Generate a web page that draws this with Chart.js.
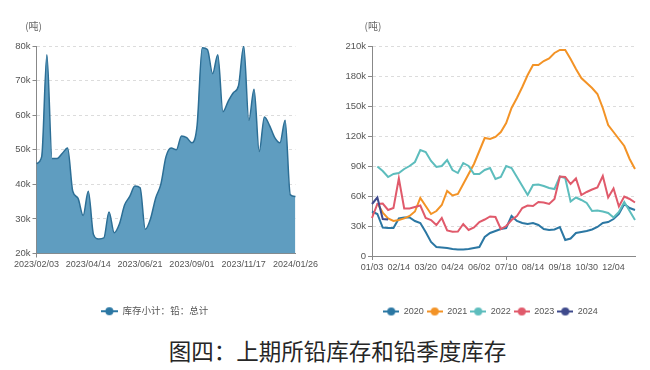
<!DOCTYPE html>
<html>
<head>
<meta charset="utf-8">
<script src="https://cdn.jsdelivr.net/npm/chart.js@4.4.1/dist/chart.umd.min.js"></script>
<style>
  html, body { margin: 0; padding: 0; background: #ffffff; }
  body { width: 650px; height: 370px; position: relative; overflow: hidden; }
  .box { position: absolute; top: 0; height: 330px; }
  #leftBox { left: 12px; width: 308px; }
  #rightBox { left: 346px; width: 304px; }
  #title { position: absolute; left: 0; top: 336px; width: 675px; text-align: center;
           font-family: 'Noto Sans CJK SC', sans-serif; font-size: 22.5px; line-height: 28px; color: #262626; }
</style>
</head>
<body>
<div id="leftBox" class="box"><canvas id="left" width="308" height="330"></canvas></div>
<div id="rightBox" class="box"><canvas id="right" width="304" height="330"></canvas></div>
<div id="title">图四：上期所铅库存和铅季度库存</div>
<script>
// ---------- Left chart: SHFE lead inventory (tons) ----------
const leftDates = [
  '2023/02/03','2023/02/10','2023/02/17','2023/02/24','2023/03/03','2023/03/10','2023/03/17','2023/03/24','2023/03/31','2023/04/07',
  '2023/04/14','2023/04/21','2023/04/28','2023/05/05','2023/05/12','2023/05/19','2023/05/26','2023/06/02','2023/06/09','2023/06/16',
  '2023/06/21','2023/06/30','2023/07/07','2023/07/14','2023/07/21','2023/07/28','2023/08/04','2023/08/11','2023/08/18','2023/08/25',
  '2023/09/01','2023/09/08','2023/09/15','2023/09/22','2023/09/28','2023/10/13','2023/10/20','2023/10/27','2023/11/03','2023/11/10',
  '2023/11/17','2023/11/24','2023/12/01','2023/12/08','2023/12/15','2023/12/22','2023/12/29','2024/01/05','2024/01/12','2024/01/19',
  '2024/01/26'
];
const leadTotal = [
  46000, 48000, 77500, 47500, 47500, 49000, 50500, 38000, 36000, 31000,
  38000, 25500, 24200, 24500, 32000, 26000, 28500, 34000, 36500, 39500,
  39000, 27000, 30000, 36000, 40000, 48000, 50500, 50000, 54000, 53500,
  52000, 57000, 79500, 79000, 72000, 77500, 61000, 64000, 66500, 68500,
  80000, 58500, 67500, 49500, 59500, 57000, 53500, 52000, 58500, 37000,
  36500
];
const leftTicks = [20000, 30000, 40000, 50000, 60000, 70000, 80000];

// ---------- Right chart: seasonal lead inventory (tons) ----------
const seasonDates = [
  '01/03','01/10','01/17','01/31','02/07','02/14','02/21','02/28','03/06','03/13',
  '03/20','03/27','04/03','04/10','04/17','04/24','05/08','05/15','05/22','05/29',
  '06/02','06/09','06/16','06/26','07/03','07/10','07/17','07/24','07/31','08/07',
  '08/14','08/21','08/28','09/04','09/11','09/18','09/25','10/09','10/16','10/23',
  '10/30','11/06','11/13','11/20','11/27','12/04','12/11','12/18','12/25','12/31'
];
const y2020 = [
  44500, 42000, 28500, 28000, 28000, 37600, 38500, 38500, 35000, 33000,
  24000, 14000, 9000, 8500, 8000, 7000, 6500, 6500, 7000, 8000,
  9000, 19000, 23000, 25000, 27000, 28000, 40000, 35000, 33000, 32000,
  33000, 31000, 27000, 26000, 26500, 29000, 16000, 17500, 23000, 24000,
  25000, 26500, 29000, 33000, 34000, 37000, 42000, 52000, 48000, 46000
];
const y2021 = [
  null, 52700, 43400, 37600, 35000, 36000, 37600, 40000, 44500, 58000,
  50000, 42000, 45000, 51000, 65000, 60500, 62000, 72000, 82000, 92000,
  105000, 118000, 117000, 119000, 124000, 133000, 148000, 158000, 169000, 181000,
  191000, 191000, 195000, 197500, 203000, 206000, 206000, 197000, 187000, 178000,
  173000, 168000, 162000, 148000, 131000, 124000, 117000, 110000, 97000, 87000
];
const y2022 = [
  null, 89500, 85000, 79000, 82000, 83000, 87000, 90000, 94000, 106000,
  104000, 95000, 89000, 90000, 96000, 86000, 83000, 93000, 90000, 82000,
  82000, 86000, 88000, 77000, 79000, 90000, 88000, 79000, 70000, 61000,
  71000, 71500, 70000, 68000, 67000, 79500, 78000, 54500, 58500, 56000,
  53000, 45000, 45500, 44500, 43000, 38500, 44000, 54000, 45000, 36000
];
const y2023 = [
  38000, 52000, 52500, 46000, 48000, 77500, 47500, 47500, 49000, 50500,
  38000, 36000, 31000, 38000, 25500, 24200, 24500, 32000, 26000, 28500,
  34000, 36500, 39500, 39000, 27000, 30000, 36000, 40000, 48000, 50500,
  50000, 54000, 53500, 52000, 57000, 79500, 79000, 72000, 77500, 61000,
  64000, 66500, 68500, 80000, 58500, 67500, 49500, 59500, 57000, 53500
];
const y2024 = [52000, 58500, 37000, 36500];
const rightTicks = [0, 30000, 60000, 90000, 120000, 150000, 180000, 210000];

const seriesNames = ['2020', '2021', '2022', '2023', '2024'];
const seriesColors = ['#2b77a3', '#f39326', '#5dbdbd', '#e05a6b', '#3f4a8c'];

// ---------- helpers ----------
const AXISFONT = "'Liberation Sans', Arial, 'Noto Sans CJK SC', sans-serif";
function makeIcon(color, w) {
  const c = document.createElement('canvas');
  c.width = w; c.height = 10;
  const g = c.getContext('2d');
  g.strokeStyle = color; g.lineWidth = 2;
  g.beginPath(); g.moveTo(0, 5); g.lineTo(w, 5); g.stroke();
  g.fillStyle = color;
  g.beginPath(); g.arc(w / 2, 5, 4, 0, Math.PI * 2); g.fill();
  return c;
}
const unitLabel = {
  id: 'unitLabel',
  afterDraw(chart, args, opts) {
    const ctx = chart.ctx;
    ctx.save();
    ctx.font = "10px 'Noto Sans CJK SC', sans-serif";
    ctx.fillStyle = '#666';
    ctx.textAlign = 'center';
    ctx.textBaseline = 'middle';
    ctx.fillText(opts.text, chart.chartArea.left + opts.dx, opts.y);
    ctx.restore();
  }
};
function kFmt(v) { return v === 0 ? '0' : (v / 1000) + 'k'; }

function baseScales(labelEvery, yMin, yMax, yWidth, tickList, xHeight) {
  return {
    x: {
      type: 'category',
      offset: false,
      grid: {
        drawOnChartArea: false, drawTicks: true, tickLength: 4,
        tickColor: (c) => (c.index % labelEvery === 0 ? '#888' : 'rgba(0,0,0,0)')
      },
      border: { display: true, color: '#888', width: 1 },
      ticks: {
        autoSkip: false, maxRotation: 0, minRotation: 0, padding: 2,
        color: '#555', font: { family: AXISFONT, size: 9 },
        callback: function (v, i) { return i % labelEvery === 0 ? this.getLabelForValue(v) : null; }
      },
      afterFit: (s) => { s.height = xHeight; }
    },
    y: {
      min: yMin, max: yMax,
      afterBuildTicks: (s) => { s.ticks = tickList.map(v => ({ value: v })); },
      grid: { color: '#dcdcdc', tickColor: '#888', tickLength: 4, drawTicks: true },
      border: { display: true, color: '#888', width: 1, dash: [3, 3] },
      ticks: { color: '#555', padding: 2, font: { family: AXISFONT, size: 9.5 }, callback: kFmt },
      afterFit: (s) => { s.width = yWidth; }
    }
  };
}

// ---------- Left chart ----------
new Chart(document.getElementById('left'), {
  type: 'line',
  data: {
    labels: leftDates,
    datasets: [{
      label: '库存小计：铅：总计',
      data: leadTotal,
      borderColor: '#2c6e95',
      borderWidth: 1.5,
      backgroundColor: '#5f9dc0',
      fill: 'start',
      cubicInterpolationMode: 'monotone',
      pointRadius: 0,
      pointStyle: makeIcon('#2b77a3', 17)
    }]
  },
  options: {
    responsive: false, animation: false, events: [],
    layout: { padding: { top: 46, left: 0, right: 23, bottom: 4 } },
    scales: baseScales(10, 20000, 80000, 23, leftTicks, 45),
    plugins: {
      legend: {
        position: 'bottom',
        labels: { usePointStyle: true, pointStyleWidth: 17, boxHeight: 10, padding: 8,
                  color: '#555', font: { family: AXISFONT, size: 9.5 } }
      },
      tooltip: { enabled: false },
      unitLabel: { text: '(吨)', dx: -3, y: 26 }
    }
  },
  plugins: [unitLabel]
});

// ---------- Right chart ----------
const rightData = [y2020, y2021, y2022, y2023, y2024];
new Chart(document.getElementById('right'), {
  type: 'line',
  data: {
    labels: seasonDates,
    datasets: seriesNames.map((name, k) => ({
      label: name,
      data: rightData[k],
      borderColor: seriesColors[k],
      backgroundColor: seriesColors[k],
      borderWidth: 2,
      fill: false,
      tension: 0,
      spanGaps: true,
      pointRadius: 0,
      pointStyle: makeIcon(seriesColors[k], 16),
      order: seriesNames.length - k
    }))
  },
  options: {
    responsive: false, animation: false, events: [],
    layout: { padding: { top: 46, left: 0, right: 15, bottom: 4 } },
    scales: baseScales(5, 0, 210000, 26, rightTicks, 48),
    plugins: {
      legend: {
        position: 'bottom',
        labels: { usePointStyle: true, pointStyleWidth: 16, boxHeight: 10, padding: 3,
                  color: '#555', font: { family: AXISFONT, size: 9 },
                  sort: (a, b) => a.datasetIndex - b.datasetIndex }
      },
      tooltip: { enabled: false },
      unitLabel: { text: '(吨)', dx: 1, y: 26 }
    }
  },
  plugins: [unitLabel]
});
</script>
</body>
</html>
